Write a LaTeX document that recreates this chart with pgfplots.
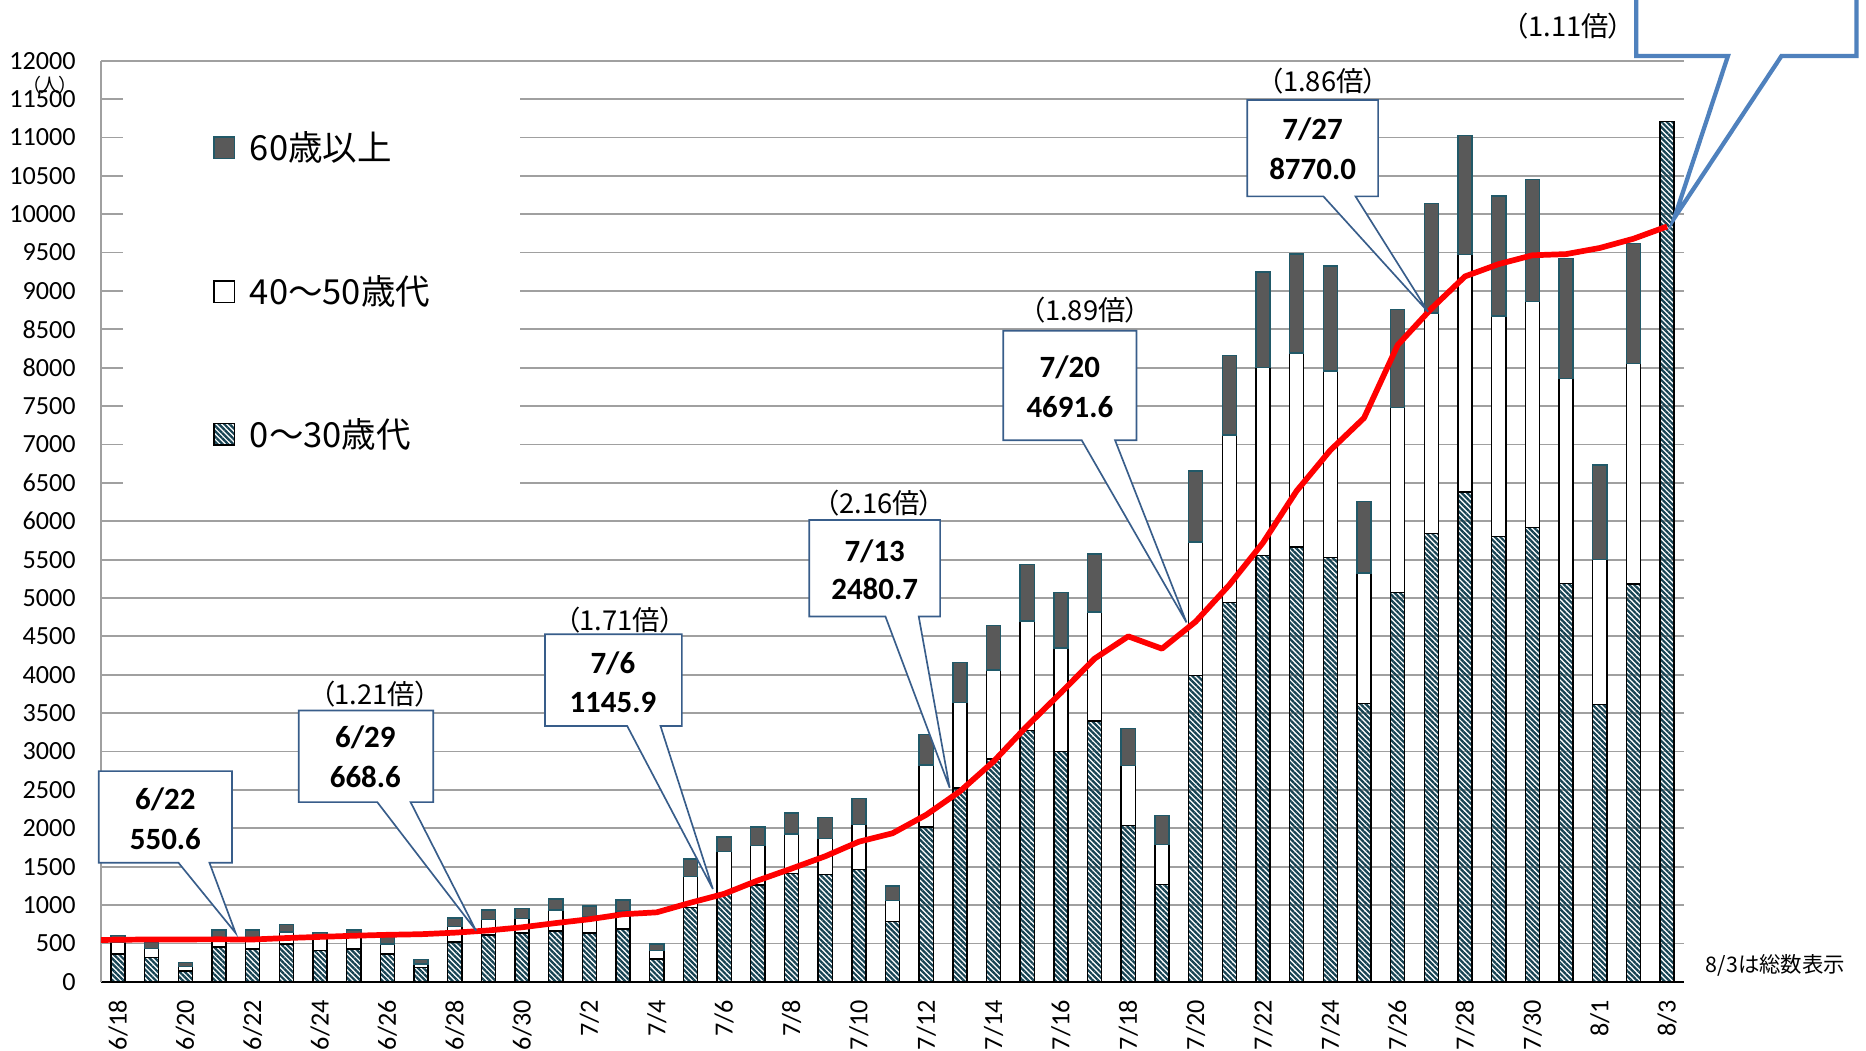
\documentclass[border=0pt]{standalone}
\usepackage{fontspec}
\setmainfont{Carlito}
\newfontfamily\cjk[RawFeature=+palt]{Noto Sans CJK JP}
\usepackage{pgfplots}
\pgfplotsset{compat=1.18}
\usetikzlibrary{patterns.meta}
\definecolor{hatch}{RGB}{22,66,82}
\definecolor{oldgray}{RGB}{89,89,89}
\definecolor{oldedge}{RGB}{33,89,104}
\definecolor{callout}{RGB}{56,93,138}
\definecolor{callblue}{RGB}{79,129,189}
\definecolor{gridgray}{RGB}{160,160,160}
\tikzset{hatchfill/.style={pattern={Lines[angle=-45,distance=1.6pt,line width=0.95pt]}, pattern color=hatch}}
\newcommand{\callout}[8]{%
  \filldraw[fill=white, draw=callout, line width=0.7pt, line join=miter]
  (#1,#2) -- (#3,#2) -- (#3,#4) -- (#6,#4) -- (#7,#8) -- (#5,#4) -- (#1,#4) -- cycle;}
\newcommand{\num}{\fontsize{13}{15}\selectfont\bfseries}
\newcommand{\bai}{\fontsize{11.5}{13}\selectfont\cjk}
\begin{document}
\begin{tikzpicture}
\begin{axis}[
  scale only axis, width=665pt, height=387pt,
  xmin=-0.5, xmax=46.5, ymin=0, ymax=12000,
  ybar stacked, bar width=0.42,
  reverse stacked plots=false,
  axis x line*=bottom, axis y line*=left,
  x axis line style={-, black, line width=0.9pt},
  y axis line style={-, gridgray, line width=0.8pt},
  ytick={0,500,...,12000},
  scaled ticks=false,
  ymajorgrids, grid style={gridgray, line width=0.75pt},
  major tick length=0pt,
  xtick={0,2,...,46},
  xticklabels={6/18,6/20,6/22,6/24,6/26,6/28,6/30,7/2,7/4,7/6,7/8,7/10,7/12,7/14,7/16,7/18,7/20,7/22,7/24,7/26,7/28,7/30,8/1,8/3},
  tick label style={font=\fontsize{11}{13}\selectfont},
  /pgf/number format/assume math mode=true,
  /pgf/number format/1000 sep={},
  yticklabel style={anchor=east, inner sep=0pt, xshift=-10.5pt},
  xticklabel style={yshift=-7.5pt, rotate=90, anchor=east, inner sep=0pt},
]
\addplot[hatchfill, draw=black, line width=0.6pt] coordinates {
(0,360) (1,315) (2,143) (3,456) (4,426) (5,491) (6,404) (7,426) (8,360) (9,187)
(10,521) (11,608) (12,634) (13,664) (14,634) (15,686) (16,295) (17,970) (18,1150) (19,1260)
(20,1410) (21,1400) (22,1465) (23,785) (24,2015) (25,2525) (26,2900) (27,3275) (28,3000) (29,3400)
(30,2035) (31,1265) (32,3990) (33,4945) (34,5550) (35,5665) (36,5525) (37,3625) (38,5075) (39,5840)
(40,6380) (41,5800) (42,5920) (43,5190) (44,3610) (45,5185) (46,11205)};
\addplot[fill=white, draw=black, line width=0.6pt] coordinates {
(0,150) (1,120) (2,57) (3,122) (4,130) (5,160) (6,196) (7,182) (8,130) (9,47)
(10,200) (11,200) (12,191) (13,274) (14,213) (15,239) (16,109) (17,400) (18,550) (19,515)
(20,515) (21,465) (22,585) (23,275) (24,810) (25,1110) (26,1160) (27,1425) (28,1350) (29,1415)
(30,785) (31,525) (32,1740) (33,2180) (34,2450) (35,2525) (36,2430) (37,1700) (38,2405) (39,2875)
(40,3095) (41,2875) (42,2945) (43,2670) (44,1890) (45,2870)};
\addplot[fill=oldgray, draw=oldedge, line width=0.6pt] coordinates {
(0,90) (1,80) (2,52) (3,95) (4,117) (5,96) (6,40) (7,65) (8,110) (9,53)
(10,109) (11,130) (12,130) (13,139) (14,143) (15,143) (16,87) (17,230) (18,185) (19,240)
(20,275) (21,275) (22,340) (23,190) (24,400) (25,525) (26,580) (27,740) (28,725) (29,760)
(30,480) (31,375) (32,925) (33,1035) (34,1245) (35,1290) (36,1370) (37,935) (38,1275) (39,1425)
(40,1550) (41,1560) (42,1585) (43,1565) (44,1230) (45,1560)};
\addplot[sharp plot, stack plots=false, red, line width=2.4pt, mark=none, line join=round] coordinates {
(-0.5,545) (0,547) (1,552) (2,552) (3,553) (4,551) (5,570) (6,585) (7,600) (8,612) (9,620)
(10,640) (11,669) (12,710) (13,765) (14,815) (15,880) (16,905) (17,1030) (18,1146) (19,1320)
(20,1475) (21,1635) (22,1825) (23,1935) (24,2175) (25,2481) (26,2870) (27,3335) (28,3765) (29,4210)
(30,4500) (31,4340) (32,4692) (33,5170) (34,5720) (35,6395) (36,6925) (37,7345) (38,8295) (39,8770)
(40,9190) (41,9350) (42,9465) (43,9480) (44,9560) (45,9680) (46,9840)};
\end{axis}
\begin{scope}[x=0.5pt, y=-0.5pt, shift={(-42.5pt,412.5pt)}]
\path[use as bounding box] (0,0) rectangle (1568,883);
% legend
\fill[white] (103,68) rectangle (437,420);
\filldraw[fill=oldgray, draw=oldedge, line width=0.6pt] (180,115) rectangle (197,133);
\filldraw[fill=white, draw=black, line width=0.6pt] (180,236) rectangle (197,254);
\path[hatchfill] (180,356) rectangle (197,374);
\draw[black, line width=0.6pt] (180,356) rectangle (197,374);
\node[anchor=west, font=\fontsize{14.5}{17}\selectfont\cjk] at (203,124) {60歳以上};
\node[anchor=west, font=\fontsize{14.5}{17}\selectfont\cjk] at (203,245) {40～50歳代};
\node[anchor=west, font=\fontsize{14.5}{17}\selectfont\cjk] at (203,365) {0～30歳代};
% unit and note
\node[font=\fontsize{8}{9}\selectfont\cjk] at (42,72) {（人）};
\node[font=\fontsize{9}{11}\selectfont\cjk] at (1492,811) {8/3は総数表示};
% callouts
\callout{83}{648}{195}{725}{150}{176}{198}{784}
\node[font=\num] at (139,672) {6/22};
\node[font=\num] at (139,705) {550.6};
\callout{251}{597}{364}{674}{317}{345}{400}{782}
\node[font=\num] at (307,620) {6/29};
\node[font=\num] at (307,653) {668.6};
\node[font=\bai] at (315,583) {（1.21倍）};
\callout{458}{533}{573}{610}{527}{555}{599}{747}
\node[font=\num] at (515,557) {7/6};
\node[font=\num] at (515,590) {1145.9};
\node[font=\bai] at (521,521) {（1.71倍）};
\callout{680}{437}{790}{518}{744}{772}{798}{662}
\node[font=\num] at (735,463) {7/13};
\node[font=\num] at (735,495) {2480.7};
\node[font=\bai] at (739,423) {（2.16倍）};
\callout{843}{278}{955}{370}{909}{937}{997}{523}
\node[font=\num] at (899,309) {7/20};
\node[font=\num] at (899,342) {4691.6};
\node[font=\bai] at (912,261) {（1.89倍）};
\callout{1048}{84}{1158}{165}{1112}{1139}{1200}{262}
\node[font=\num] at (1103,109) {7/27};
\node[font=\num] at (1103,142) {8770.0};
\node[font=\bai] at (1112,68) {（1.86倍）};
\filldraw[fill=white, draw=callblue, line width=1.8pt, line join=miter]
  (1375,-30) -- (1560,-30) -- (1560,47) -- (1497,47) -- (1407,183) -- (1452,47) -- (1375,47) -- cycle;
\node[font=\bai] at (1318,22) {（1.11倍）};
\end{scope}
\end{tikzpicture}
\end{document}
